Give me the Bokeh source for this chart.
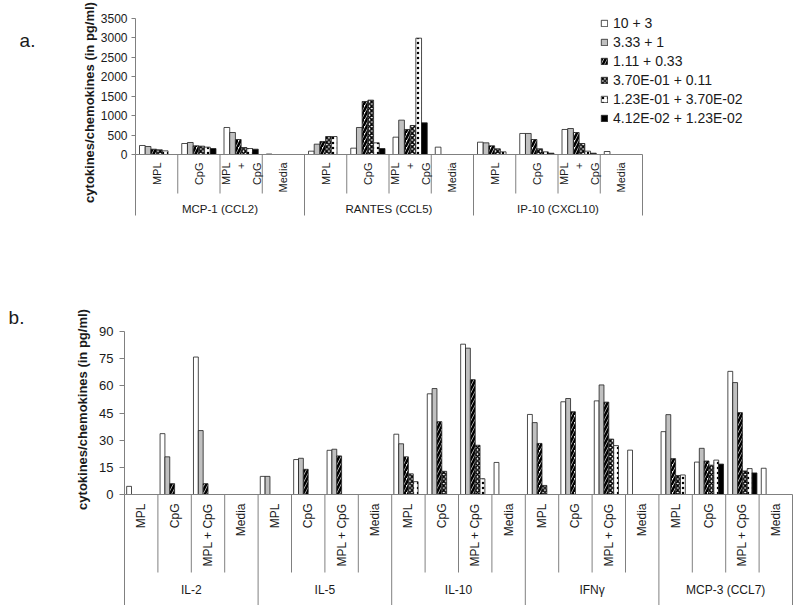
import math
from bokeh.plotting import figure
from bokeh.models import Range1d, FixedTicker, ColumnDataSource, Legend, LegendItem
from bokeh.layouts import column
from bokeh.embed import file_html
from bokeh.resources import INLINE
from bokeh.core.properties import value

FONT = "Liberation Sans"

# ---------------- data ----------------
series_labels = ["10 + 3", "3.33 + 1", "1.11 + 0.33", "3.70E-01 + 0.11",
                 "1.23E-01 + 3.70E-02", "4.12E-02 + 1.23E-02"]

groups_a = ["MCP-1 (CCL2)", "RANTES (CCL5)", "IP-10 (CXCL10)"]
treatments_a = ["MPL", "CpG", "MPL\n+\nCpG", "Media"]
ticks_a = [0, 500, 1000, 1500, 2000, 2500, 3000, 3500]

# values per (group, treatment), order: MCP-1 x4, RANTES x4, IP-10 x4
a_10_3   = [232, 283, 695, 12, 86, 163, 446, 189, 317, 541, 644, 77]
a_3_33_1 = [206, 309, 566, None, 266, 695, 884, None, 300, 541, 669, None]
a_1_11   = [137, 223, 386, None, 335, 1364, 644, None, 223, 386, 566, None]
a_0_370  = [120, 215, 180, None, 463, 1399, 746, None, 146, 146, 283, None]
a_0_123  = [94, 189, 154, None, 463, 300, 2994, None, 69, 69, 86, None]
a_0_041  = [None, 154, 137, None, None, 154, 815, None, None, 34, 34, None]

groups_b = ["IL-2", "IL-5", "IL-10", "IFN\u03b3", "MCP-3 (CCL7)"]
treatments_b = ["MPL", "CpG", "MPL + CpG", "Media"]
ticks_b = [0, 15, 30, 45, 60, 75, 90]

b_10_3   = [4.5, 33.6, 75.9, None, 10, 19.3, 24.4, None, 33.3, 55.6, 83, 17.7,
            44.2, 51.2, 51.7, 24.5, 34.7, 17.9, 68, 14.5]
b_3_33_1 = [None, 20.8, 35.3, None, 10, 20, 25, None, 28, 58.5, 80.8, None,
            39.7, 53, 60.5, None, 44.1, 25.5, 61.8, None]
b_1_11   = [None, 6, 6, None, None, 13.9, 21.3, None, 20.8, 40.2, 63.4, None,
            28.2, 45.7, 51, None, 19.8, 18.5, 45.2, None]
b_0_370  = [None, None, None, None, None, None, None, None, 11.4, 12.8, 27.2, None,
            5, None, 30.6, None, 10.5, 16.2, 13, None]
b_0_123  = [None, None, None, None, None, None, None, None, 7.1, None, 8.7, None,
            None, None, 27, None, 10.8, 19, 14.3, None]
b_0_041  = [None, None, None, None, None, None, None, None, None, None, None, None,
            None, None, None, None, None, 16.8, 11.9, None]

values_a = [a_10_3, a_3_33_1, a_1_11, a_0_370, a_0_123, a_0_041]
values_b = [b_10_3, b_3_33_1, b_1_11, b_0_370, b_0_123, b_0_041]

# ---------------- styles ----------------
styles = [
    dict(fill_color="white"),
    dict(fill_color="#c0c0c0"),
    dict(fill_color="white", hatch_pattern="/", hatch_color="black", hatch_scale=7, hatch_weight=2.6),
    dict(fill_color="white", hatch_pattern="x", hatch_color="black", hatch_scale=4.5, hatch_weight=1.6),
    dict(fill_color="white", hatch_pattern=".", hatch_color="black", hatch_scale=5, hatch_weight=1.0),
    dict(fill_color="black"),
]
AXIS_COLOR = "#808080"
TEXT_COLOR = "#1a1a1a"
TITLE = "cytokines/chemokines (in pg/ml)"


def make_panel(groups, treatments, vals, ticks, W, H, page_top,
               axis_x, sub_px, zero_page, top_val, top_val_page,
               bar_w, tick_font, tick_out, tick_standoff,
               sub_font, grp_font, sub_y, sub_sep_y, grp_y, grp_sep_y, line_height,
               title_x, title_y, tag, tag_x, tag_y):
    ppu = (zero_page - top_val_page) / top_val

    def py(page_y):
        return (zero_page - page_y) / ppu

    def px(page_x):
        return (page_x - axis_x) / sub_px

    p = figure(width=W, height=H, output_backend="svg", toolbar_location=None,
               x_range=Range1d(px(0), px(W)), y_range=Range1d(py(page_top + H), py(page_top)),
               x_axis_location=None, min_border=0, min_border_left=0, min_border_right=0,
               min_border_top=0, min_border_bottom=0)
    p.outline_line_color = None
    p.xgrid.visible = False
    p.ygrid.visible = False
    p.background_fill_color = "white"
    p.border_fill_color = "white"

    ax = p.yaxis[0]
    ax.fixed_location = 0
    ax.ticker = FixedTicker(ticks=ticks)
    ax.bounds = (ticks[0], ticks[-1])
    ax.axis_line_color = AXIS_COLOR
    ax.major_tick_line_color = AXIS_COLOR
    ax.major_tick_in = 0
    ax.major_tick_out = tick_out
    ax.minor_tick_line_color = None
    ax.major_label_text_font = FONT
    ax.major_label_text_font_size = tick_font
    ax.major_label_text_color = TEXT_COLOR
    ax.major_label_standoff = tick_standoff

    n = len(groups) * len(treatments)
    renderers = []
    for s, series in enumerate(vals):
        xs, tops = [], []
        for i, v in enumerate(series):
            if v is None:
                continue
            xs.append(i + 0.5 + (s - 2.5) * bar_w)
            tops.append(v)
        src = ColumnDataSource(dict(x=xs, top=tops))
        r = p.vbar(x="x", top="top", bottom=0, width=bar_w, source=src,
                   line_color="#202020", line_width=0.8, **styles[s])
        renderers.append(r)

    # category axis line and separators
    p.segment(x0=[0], y0=[0], x1=[n], y1=[0], line_color=AXIS_COLOR, line_width=1)
    bx = list(range(n + 1))
    by1 = [py(grp_sep_y) if b % len(treatments) == 0 else py(sub_sep_y) for b in bx]
    p.segment(x0=bx, y0=[0] * len(bx), x1=bx, y1=by1, line_color=AXIS_COLOR, line_width=1)

    sub_x = [i + 0.5 for i in range(n)]
    sub_t = [treatments[i % len(treatments)] for i in range(n)]
    p.text(x=sub_x, y=py(sub_y), text=sub_t, angle=math.pi / 2,
           text_align="right", text_baseline="middle", text_font=value(FONT),
           text_font_size=sub_font, text_color=TEXT_COLOR, text_line_height=line_height)
    gx = [g * len(treatments) + len(treatments) / 2 for g in range(len(groups))]
    p.text(x=gx, y=py(grp_y), text=groups, text_align="center", text_baseline="middle",
           text_font=value(FONT), text_font_size=grp_font, text_color=TEXT_COLOR)

    # y title and panel tag
    p.text(x=[px(title_x)], y=[py(title_y)], text=[TITLE], angle=math.pi / 2,
           text_align="center", text_baseline="middle", text_font=value(FONT),
           text_font_size="13px", text_font_style="bold", text_color=TEXT_COLOR)
    p.text(x=[px(tag_x)], y=[py(tag_y)], text=[tag], text_align="center",
           text_baseline="middle", text_font=value(FONT), text_font_size="19px",
           text_color=TEXT_COLOR)
    return p, renderers


# ---------------- panel a ----------------
pA, rA = make_panel(
    groups_a, treatments_a, values_a, ticks_a, W=800, H=240, page_top=0,
    axis_x=135, sub_px=42.25, zero_page=154, top_val=3500, top_val_page=18,
    bar_w=0.135, tick_font="12px", tick_out=4, tick_standoff=4,
    sub_font="11px", grp_font="11.5px",
    sub_y=162, sub_sep_y=193, grp_y=208, grp_sep_y=215, line_height=1.3,
    title_x=89, title_y=102, tag="a.", tag_x=27, tag_y=40)

legend = Legend(items=[LegendItem(label=lab, renderers=[r]) for lab, r in zip(series_labels, rA)],
                location=(600, 113), orientation="vertical",
                background_fill_alpha=0, border_line_color=None, padding=0, margin=0,
                spacing=0, label_height=19, glyph_height=8, glyph_width=8, label_standoff=5,
                label_text_font=FONT, label_text_font_size="14px", label_text_color=TEXT_COLOR)
pA.add_layout(legend)

# ---------------- panel b ----------------
pB, rB = make_panel(
    groups_b, treatments_b, values_b, ticks_b, W=800, H=365, page_top=240,
    axis_x=124, sub_px=33.4, zero_page=494, top_val=90, top_val_page=331,
    bar_w=0.145, tick_font="13px", tick_out=5, tick_standoff=6,
    sub_font="12px", grp_font="12px",
    sub_y=503, sub_sep_y=572, grp_y=589, grp_sep_y=610, line_height=1.2,
    title_x=82, title_y=409, tag="b.", tag_x=16, tag_y=317)

layout = column(pA, pB, spacing=0)
open("out.html", "w").write(file_html(layout, INLINE))
